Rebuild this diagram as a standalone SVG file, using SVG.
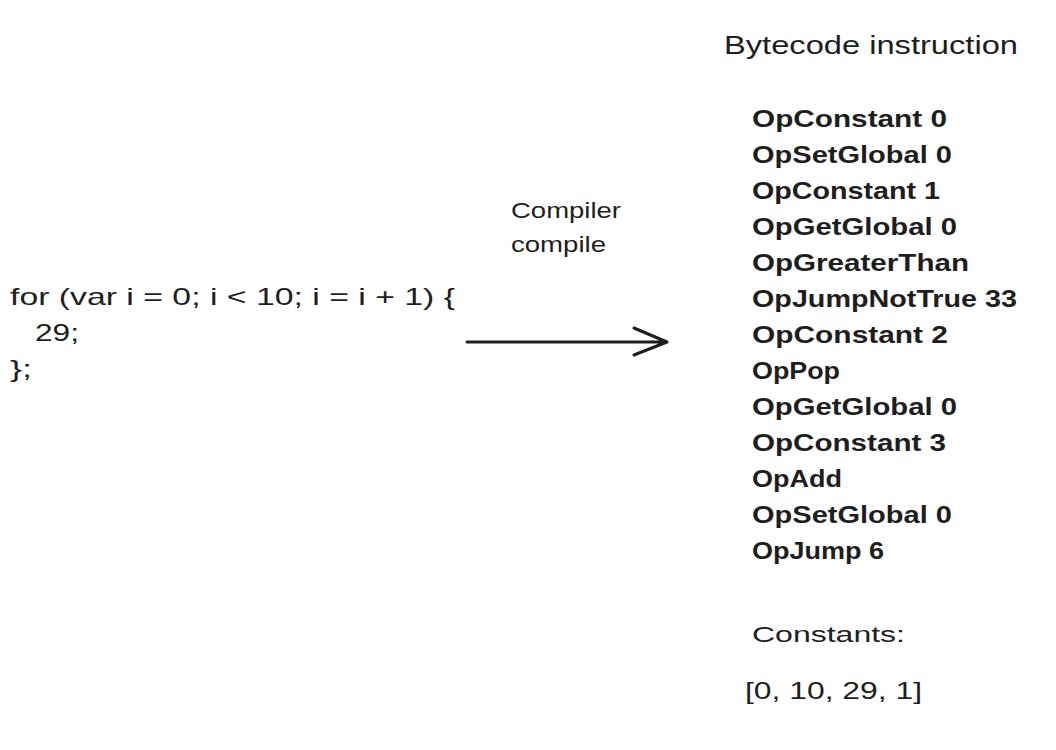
<svg xmlns="http://www.w3.org/2000/svg" width="1056" height="750" viewBox="0 0 1056 750">
<style>
text{font-family:"Liberation Sans","DejaVu Sans",sans-serif;fill:#1e1e1e}
.code{font-size:24px}
.op{font-size:24px;font-weight:bold}
.lbl{font-size:22px}
.hdr{font-size:25px}
.arr{stroke:#1e1e1e;stroke-width:3;fill:none;stroke-linecap:round;stroke-linejoin:round}
</style>
<rect width="1056" height="750" fill="#ffffff"/>
<g id="source">
<text class="code" x="10" y="305" textLength="445" lengthAdjust="spacingAndGlyphs">for (var i = 0; i &lt; 10; i = i + 1) {</text>
<text class="code" x="35" y="341" textLength="44" lengthAdjust="spacingAndGlyphs">29;</text>
<text class="code" x="10" y="377" textLength="22" lengthAdjust="spacingAndGlyphs">};</text>
</g>
<g id="compiler-label">
<text class="lbl" x="511" y="218" textLength="110" lengthAdjust="spacingAndGlyphs">Compiler</text>
<text class="lbl" x="511" y="252" textLength="95" lengthAdjust="spacingAndGlyphs">compile</text>
</g>
<g id="connectors">
<path class="arr" d="M467 342 L667 342 M634 328 L667 342 L634 355"/>
</g>
<g id="bytecode">
<text class="hdr" x="724" y="54" textLength="294" lengthAdjust="spacingAndGlyphs">Bytecode instruction</text>
<text class="op" x="752" y="127" textLength="195" lengthAdjust="spacingAndGlyphs">OpConstant 0</text>
<text class="op" x="752" y="163" textLength="200" lengthAdjust="spacingAndGlyphs">OpSetGlobal 0</text>
<text class="op" x="752" y="199" textLength="188" lengthAdjust="spacingAndGlyphs">OpConstant 1</text>
<text class="op" x="752" y="235" textLength="205" lengthAdjust="spacingAndGlyphs">OpGetGlobal 0</text>
<text class="op" x="752" y="271" textLength="217" lengthAdjust="spacingAndGlyphs">OpGreaterThan</text>
<text class="op" x="752" y="307" textLength="265" lengthAdjust="spacingAndGlyphs">OpJumpNotTrue 33</text>
<text class="op" x="752" y="343" textLength="196" lengthAdjust="spacingAndGlyphs">OpConstant 2</text>
<text class="op" x="752" y="379" textLength="88" lengthAdjust="spacingAndGlyphs">OpPop</text>
<text class="op" x="752" y="415" textLength="205" lengthAdjust="spacingAndGlyphs">OpGetGlobal 0</text>
<text class="op" x="752" y="451" textLength="194" lengthAdjust="spacingAndGlyphs">OpConstant 3</text>
<text class="op" x="752" y="487" textLength="90" lengthAdjust="spacingAndGlyphs">OpAdd</text>
<text class="op" x="752" y="523" textLength="200" lengthAdjust="spacingAndGlyphs">OpSetGlobal 0</text>
<text class="op" x="752" y="559" textLength="132" lengthAdjust="spacingAndGlyphs">OpJump 6</text>
</g>
<g id="constants">
<text class="lbl" x="752" y="642" textLength="153" lengthAdjust="spacingAndGlyphs">Constants:</text>
<text class="code" x="745" y="699" textLength="177" lengthAdjust="spacingAndGlyphs">[0, 10, 29, 1]</text>
</g>
</svg>
